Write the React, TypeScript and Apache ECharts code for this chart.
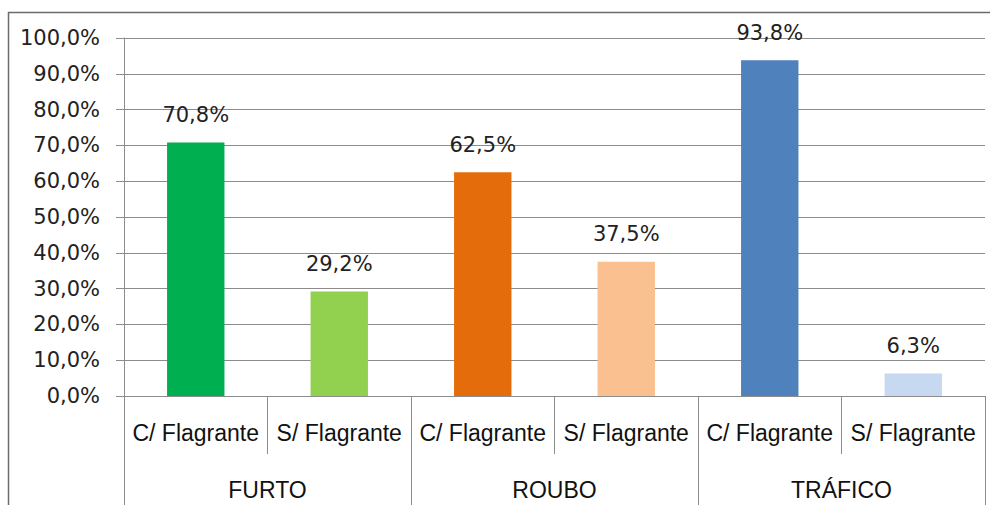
import React, { useEffect, useRef } from "react";
import * as echarts from "echarts";

const groups = ["FURTO", "ROUBO", "TRÁFICO"];
const subLabels = ["C/ Flagrante", "S/ Flagrante", "C/ Flagrante", "S/ Flagrante", "C/ Flagrante", "S/ Flagrante"];
const values = [70.8, 29.2, 62.5, 37.5, 93.8, 6.3];
const barColors = ["#00B050", "#92D050", "#E46C0A", "#FAC090", "#4F81BD", "#C6D9F1"];
const yTicks = [0, 10, 20, 30, 40, 50, 60, 70, 80, 90, 100];

const fmt = (v: number) => v.toFixed(1).replace(".", ",") + "%";

export default function App() {
  const ref = useRef<HTMLDivElement>(null);
  useEffect(() => {
    if (!ref.current) return;
    const chart = echarts.init(ref.current, null, { renderer: "svg" });
    const gray = "#8c8c8c";
    chart.setOption({
      animation: false,
      backgroundColor: "#ffffff",
      grid: { left: 124, right: 5, top: 38, bottom: 109, containLabel: false },
      graphic: [
        {
          type: "rect",
          shape: { x: 8.5, y: 12.5, width: 1000, height: 600 },
          style: { fill: "none", stroke: "#6b6b6b", lineWidth: 1.5 },
          silent: true,
        },
      ],
      xAxis: [
        {
          type: "category",
          data: subLabels,
          position: "bottom",
          axisLine: { show: true, lineStyle: { color: gray, width: 1 } },
          axisTick: { show: true, interval: 0, length: 58, lineStyle: { color: gray } },
          axisLabel: {
            interval: 0,
            margin: 25,
            fontFamily: "Liberation Sans",
            fontSize: 23,
            color: "#111",
          },
        },
        {
          type: "category",
          data: groups,
          position: "bottom",
          axisLine: { show: false },
          axisTick: { show: true, interval: 0, length: 115, lineStyle: { color: gray } },
          axisLabel: {
            interval: 0,
            margin: 82,
            fontFamily: "Liberation Sans",
            fontSize: 23,
            color: "#111",
          },
        },
      ],
      yAxis: {
        type: "value",
        min: 0,
        max: 100,
        interval: 10,
        axisLine: { show: true, lineStyle: { color: gray } },
        axisTick: { show: true, length: 8, lineStyle: { color: gray } },
        splitLine: { show: true, lineStyle: { color: gray, width: 1 } },
        axisLabel: {
          margin: 24,
          fontFamily: "DejaVu Sans",
          fontSize: 21,
          color: "#222",
          formatter: (v: number) => (yTicks.includes(v) ? fmt(v) : ""),
        },
      },
      series: [
        {
          type: "bar",
          xAxisIndex: 0,
          barWidth: "40%",
          data: values.map((v, i) => ({ value: v, itemStyle: { color: barColors[i] } })),
          label: {
            show: true,
            position: "top",
            distance: 17,
            fontFamily: "DejaVu Sans",
            fontSize: 21,
            color: "#222",
            formatter: (p: any) => fmt(p.value),
          },
        },
      ],
    });
    return () => chart.dispose();
  }, []);
  return (
    <div
      ref={ref}
      style={{ position: "absolute", left: 0, top: 0, width: 990, height: 505 }}
    />
  );
}
